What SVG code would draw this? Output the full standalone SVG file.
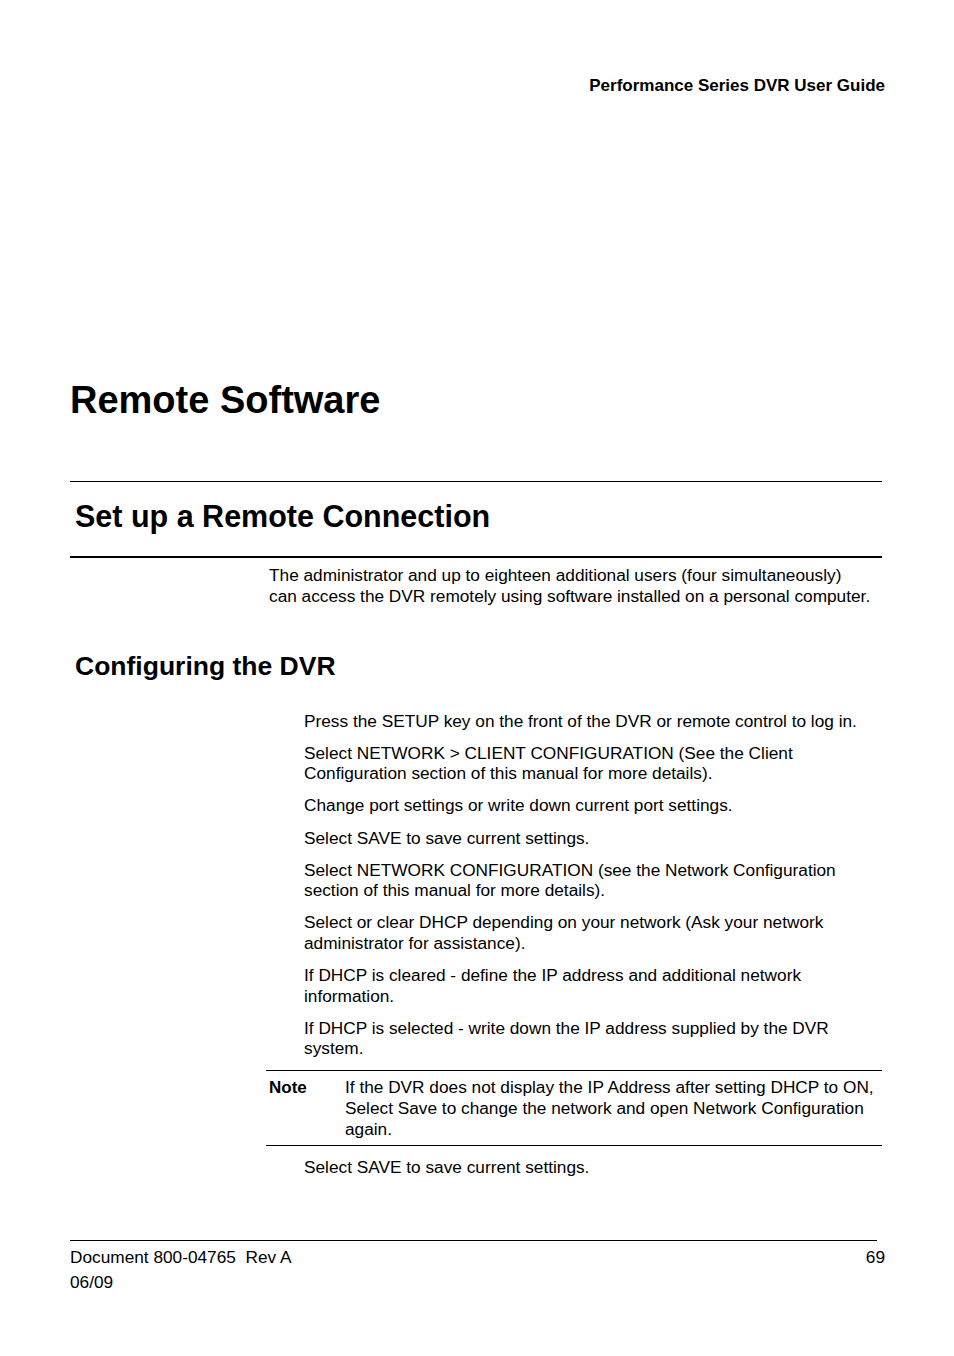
<svg xmlns="http://www.w3.org/2000/svg" width="954" height="1356" viewBox="0 0 954 1356">
<style>
text{font-family:"Liberation Sans",Arial,Helvetica,sans-serif;fill:#000}
.b{font-size:17.25px}
.h{font-size:17px;font-weight:bold}
.t1{font-size:38px;font-weight:bold}
.t2{font-size:30.5px;font-weight:bold}
.t3{font-size:26.5px;font-weight:bold}
line{stroke:#000}
</style>
<rect width="954" height="1356" fill="#fff"/>
<g id="header">
<text class="h" x="885" y="91" text-anchor="end">Performance Series DVR User Guide</text>
</g>
<g id="title">
<text class="t1" x="70" y="413">Remote Software</text>
</g>
<g id="rules">
<line x1="70" y1="481.5" x2="882" y2="481.5" stroke-width="1.2"/>
<line x1="70" y1="557" x2="882" y2="557" stroke-width="2"/>
<line x1="266" y1="1070.5" x2="882" y2="1070.5" stroke-width="1.2"/>
<line x1="266" y1="1145.5" x2="882" y2="1145.5" stroke-width="1.2"/>
<line x1="70" y1="1240.5" x2="877" y2="1240.5" stroke-width="1.2"/>
</g>
<g id="section">
<text class="t2" x="75" y="527">Set up a Remote Connection</text>
<text class="b" x="269" y="581">The administrator and up to eighteen additional users (four simultaneously)</text>
<text class="b" x="269" y="602">can access the DVR remotely using software installed on a personal computer.</text>
</g>
<g id="subsection">
<text class="t3" x="75" y="675">Configuring the DVR</text>
<text class="b" x="304" y="727">Press the SETUP key on the front of the DVR or remote control to log in.</text>
<text class="b" x="304" y="759">Select NETWORK &gt; CLIENT CONFIGURATION (See the Client</text>
<text class="b" x="304" y="779">Configuration section of this manual for more details).</text>
<text class="b" x="304" y="811">Change port settings or write down current port settings.</text>
<text class="b" x="304" y="844">Select SAVE to save current settings.</text>
<text class="b" x="304" y="876">Select NETWORK CONFIGURATION (see the Network Configuration</text>
<text class="b" x="304" y="896">section of this manual for more details).</text>
<text class="b" x="304" y="928">Select or clear DHCP depending on your network (Ask your network</text>
<text class="b" x="304" y="949">administrator for assistance).</text>
<text class="b" x="304" y="981">If DHCP is cleared - define the IP address and additional network</text>
<text class="b" x="304" y="1002">information.</text>
<text class="b" x="304" y="1034">If DHCP is selected - write down the IP address supplied by the DVR</text>
<text class="b" x="304" y="1054">system.</text>
</g>
<g id="note">
<text class="h" x="269" y="1093">Note</text>
<text class="b" x="345" y="1093">If the DVR does not display the IP Address after setting DHCP to ON,</text>
<text class="b" x="345" y="1114">Select Save to change the network and open Network Configuration</text>
<text class="b" x="345" y="1135">again.</text>
</g>
<g id="last-step">
<text class="b" x="304" y="1173">Select SAVE to save current settings.</text>
</g>
<g id="footer">
<text class="b" x="70" y="1263">Document 800-04765&#160; Rev A</text>
<text class="b" x="885" y="1263" text-anchor="end">69</text>
<text class="b" x="70" y="1288">06/09</text>
</g>
</svg>
